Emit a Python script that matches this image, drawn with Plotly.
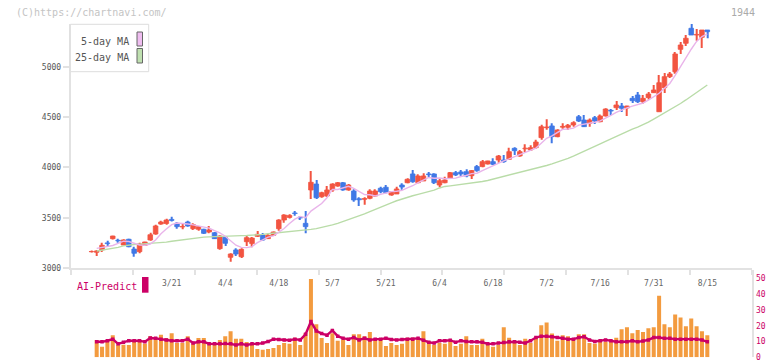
import plotly.graph_objects as go

# ---------------- data ----------------
tick_idx = [15, 25, 35, 45, 55, 65, 75, 85, 95, 105, 115]
tick_labels = ["3/21", "4/4", "4/18", "5/7", "5/21", "6/4", "6/18", "7/2", "7/16", "7/31", "8/15"]
price_ticks = [3000, 3500, 4000, 4500, 5000]
ai_ticks = [0, 10, 20, 30, 40, 50]

opens = [
    3165, 3159, 3182, 3252, 3294, 3278, 3231, 3288, 3191, 3165,
    3228, 3281, 3340, 3439, 3445, 3485, 3446, 3410, 3459, 3393,
    3387, 3387, 3360, 3353, 3195, 3307, 3109, 3182, 3115, 3264,
    3245, 3317, 3330, 3294, 3327, 3393, 3479, 3505, 3549, 3505,
    3446, 3777, 3836, 3710, 3717, 3777, 3816, 3849, 3777, 3767,
    3690, 3684, 3694, 3717, 3794, 3804, 3727, 3737, 3826, 3849,
    3936, 3849, 3866, 3936, 3936, 3826, 3849, 3896, 3949, 3956,
    3959, 3919, 4009, 4009, 4035, 4058, 4074, 4074, 4081, 4190,
    4114, 4185, 4174, 4197, 4296, 4395, 4412, 4306, 4400, 4399,
    4422, 4504, 4471, 4438, 4494, 4454, 4511, 4567, 4593, 4610,
    4590, 4686, 4719, 4653, 4693, 4742, 4553, 4792, 4901, 4950,
    5172, 5232, 5381, 5314, 5291, 5364,
]
highs = [
    3168, 3182, 3254, 3274, 3322, 3294, 3287, 3294, 3214, 3254,
    3264, 3353, 3433, 3472, 3492, 3512, 3459, 3446, 3472, 3446,
    3420, 3393, 3420, 3360, 3327, 3320, 3150, 3198, 3198, 3321,
    3310, 3370, 3350, 3340, 3366, 3486, 3535, 3535, 3568, 3519,
    3568, 3965, 3876, 3760, 3816, 3843, 3856, 3856, 3836, 3783,
    3704, 3704, 3783, 3783, 3810, 3826, 3765, 3810, 3843, 3893,
    3976, 3932, 3942, 3956, 3942, 3889, 3909, 3956, 3965, 3976,
    3982, 3976, 4025, 4074, 4068, 4091, 4124, 4124, 4197, 4200,
    4174, 4230, 4220, 4276, 4425, 4478, 4439, 4380, 4439, 4432,
    4458, 4521, 4521, 4485, 4511, 4525, 4587, 4580, 4660, 4640,
    4613, 4709, 4749, 4719, 4749, 4818, 4918, 4937, 4947, 5146,
    5245, 5315, 5424, 5374, 5364, 5364,
]
lows = [
    3162, 3122, 3162, 3221, 3285, 3254, 3228, 3208, 3115, 3149,
    3221, 3274, 3333, 3433, 3433, 3465, 3393, 3387, 3413, 3380,
    3373, 3340, 3347, 3290, 3185, 3221, 3065, 3122, 3102, 3221,
    3208, 3310, 3274, 3290, 3320, 3373, 3453, 3495, 3522, 3479,
    3347, 3687, 3687, 3700, 3710, 3760, 3810, 3770, 3770, 3661,
    3618, 3631, 3684, 3710, 3744, 3744, 3720, 3737, 3780, 3843,
    3849, 3843, 3866, 3906, 3836, 3803, 3843, 3893, 3916, 3916,
    3903, 3886, 3959, 4002, 4030, 4025, 4048, 4048, 4074, 4124,
    4107, 4154, 4167, 4187, 4276, 4375, 4240, 4300, 4379, 4372,
    4405, 4451, 4402, 4405, 4432, 4448, 4505, 4521, 4570, 4550,
    4511, 4640, 4640, 4633, 4673, 4739, 4553, 4739, 4888, 4931,
    5126, 5205, 5314, 5258, 5185, 5282,
]
closes = [
    3166, 3172, 3228, 3245, 3320, 3272, 3281, 3214, 3149, 3241,
    3261, 3333, 3420, 3459, 3479, 3475, 3413, 3415, 3420, 3433,
    3413, 3347, 3380, 3294, 3320, 3248, 3142, 3142, 3188, 3304,
    3300, 3337, 3281, 3327, 3360, 3479, 3529, 3525, 3543, 3499,
    3413, 3853, 3700, 3750, 3777, 3836, 3849, 3777, 3826, 3678,
    3680, 3692, 3767, 3767, 3760, 3750, 3760, 3787, 3806, 3883,
    3859, 3916, 3916, 3929, 3849, 3869, 3876, 3949, 3926, 3936,
    3916, 3969, 3969, 4058, 4065, 4032, 4114, 4058, 4157, 4167,
    4157, 4192, 4197, 4253, 4405, 4402, 4306, 4372, 4408, 4419,
    4445, 4461, 4405, 4471, 4461, 4511, 4580, 4560, 4620, 4587,
    4610, 4663, 4653, 4686, 4729, 4769, 4841, 4901, 4928, 5126,
    5215, 5282, 5314, 5320, 5364, 5347,
]
ma5 = [
    None, 3198, 3205, 3212, 3226, 3247, 3269, 3266, 3247, 3231,
    3229, 3240, 3281, 3343, 3390, 3433, 3449, 3448, 3440, 3431,
    3419, 3406, 3399, 3373, 3351, 3318, 3277, 3229, 3208, 3205,
    3215, 3254, 3282, 3310, 3321, 3357, 3395, 3444, 3487, 3515,
    3502, 3567, 3602, 3643, 3699, 3783, 3782, 3798, 3813, 3793,
    3762, 3731, 3729, 3717, 3733, 3747, 3761, 3765, 3773, 3797,
    3819, 3850, 3876, 3901, 3894, 3896, 3888, 3894, 3894, 3911,
    3921, 3939, 3943, 3970, 3995, 4019, 4048, 4065, 4085, 4106,
    4131, 4146, 4174, 4193, 4241, 4290, 4313, 4348, 4379, 4381,
    4390, 4421, 4428, 4440, 4449, 4462, 4486, 4517, 4546, 4572,
    4591, 4608, 4627, 4640, 4668, 4700, 4736, 4785, 4834, 4913,
    5002, 5090, 5173, 5251, 5299, 5325,
]
ma25 = [
    None, 3172, 3180, 3188, 3196, 3208, 3222, 3232, 3236, 3240,
    3243, 3246, 3248, 3252, 3260, 3268, 3276, 3281, 3288, 3296,
    3305, 3309, 3312, 3315, 3318, 3320, 3321, 3322, 3324, 3325,
    3327, 3331, 3337, 3343, 3348, 3352, 3356, 3360, 3366, 3372,
    3378, 3386, 3394, 3405, 3418, 3431, 3446, 3464, 3482, 3500,
    3518, 3540, 3563, 3586, 3610, 3630, 3650, 3670, 3688, 3706,
    3720, 3734, 3748, 3762, 3775, 3797, 3812, 3818, 3824, 3830,
    3836, 3844, 3852, 3861, 3871, 3884, 3898, 3912, 3927, 3941,
    3953, 3965, 3978, 3990, 4004, 4020, 4036, 4052, 4070, 4090,
    4112, 4135, 4160, 4185, 4210, 4235, 4260, 4285, 4310, 4335,
    4358, 4380, 4400, 4422, 4450, 4480, 4510, 4540, 4568, 4600,
    4635, 4670, 4705, 4745, 4782, 4818,
]
volume = [
    None, 10.9, 6.7, 10.5, 14.0, 7.8, 7.9, 7.8, 10.9, 10.9,
    8.5, 13.4, 12.7, 14.3, 12.2, 15.3, 9.0, 9.0, 13.4, 8.5,
    12.2, 12.2, 9.0, 7.8, 10.9, 13.4, 16.5, 11.7, 11.7, 9.7,
    7.8, 5.3, 4.7, 5.3, 5.9, 7.8, 9.0, 8.5, 12.4, 7.8,
    15.3, 49.6, 20.9, 12.2, 9.0, 15.3, 10.5, 10.9, 7.8, 14.6,
    14.6, 13.4, 16.0, 11.7, 10.9, 7.2, 9.0, 7.8, 8.5, 12.4,
    12.4, 10.9, 16.5, 9.7, 7.8, 9.0, 8.5, 9.7, 7.2, 8.5,
    13.4, 7.8, 7.8, 11.7, 8.5, 6.7, 7.8, 19.0, 12.4, 9.0,
    7.8, 11.7, 9.0, 12.4, 20.3, 22.1, 15.0, 10.5, 14.0, 13.4,
    11.7, 14.6, 14.6, 9.0, 8.5, 10.9, 9.7, 9.7, 12.4, 17.8,
    19.0, 15.3, 17.2, 16.0, 18.4, 19.0, 39.0, 20.9, 19.0, 27.1,
    25.2, 19.6, 24.6, 19.6, 16.5, 14.0,
]
ai_predict = [
    None, 9.8, 9.8, 10.5, 11.5, 8.5, 9.5, 10.5, 10.5, 10.5,
    9.8, 12.2, 12.0, 11.5, 11.0, 10.5, 10.5, 10.5, 11.5, 9.0,
    9.8, 9.8, 8.5, 8.5, 8.5, 8.8, 8.5, 7.8, 8.5, 7.8,
    8.5, 8.5, 9.0, 10.0, 11.5, 11.3, 11.0, 10.8, 11.5, 11.0,
    14.6, 22.6, 16.7, 15.0, 14.0, 17.0, 13.4, 12.0, 11.5, 12.5,
    11.0, 12.0, 11.0, 11.5, 11.5, 12.0, 11.3, 11.0, 11.3, 11.5,
    11.5, 12.0, 10.8, 9.5, 9.0, 10.5, 10.5, 10.8, 9.5, 10.5,
    10.0, 9.8, 9.8, 9.5, 8.5, 8.5, 9.0, 9.3, 9.8, 9.8,
    9.5, 9.0, 10.5, 12.5, 13.4, 13.4, 13.0, 12.5, 12.0, 11.5,
    11.5, 12.5, 13.0, 11.0, 10.0, 10.5, 11.0, 10.5, 9.8, 9.8,
    9.8, 10.5, 9.8, 10.3, 11.0, 12.5, 12.5, 12.0, 12.0, 11.5,
    11.5, 11.5, 11.5, 11.5, 11.0, 9.8,
]

# ---------------- styling ----------------
W, H = 772, 361
MONO = "DejaVu Sans Mono"
UP, DOWN = "#f25441", "#4078e6"
PINK, GREEN = "#e9b4ea", "#b9dca8"
ORANGE, CRIMSON = "#f39b3f", "#cc0066"
AXIS = "#e2e2e2"

n = len(closes)
idx = list(range(n))
colors = [UP if c >= o else DOWN for o, c in zip(opens, closes)]
body_base = [min(o, c) for o, c in zip(opens, closes)]
body_len = [abs(c - o) for o, c in zip(opens, closes)]
wick_len = [h - l for h, l in zip(highs, lows)]

XR = [-3.85, 123.4]
XDOM = [70.7 / W, 752.3 / W]


def px(y):
    return 1 - y / H


fig = go.Figure()
fig.add_trace(go.Scatter(x=idx, y=ma25, mode="lines", line=dict(color=GREEN, width=1.4), hoverinfo="skip"))
fig.add_trace(go.Scatter(x=idx, y=ma5, mode="lines", line=dict(color=PINK, width=1.4), hoverinfo="skip"))
fig.add_trace(go.Bar(x=idx, y=wick_len, base=lows, width=0.2, marker=dict(color=colors, line=dict(width=0))))
fig.add_trace(go.Bar(x=idx, y=body_len, base=body_base, width=0.86,
                     marker=dict(color=colors, line=dict(color=colors, width=0.8))))
fig.add_trace(go.Bar(x=idx, y=volume, width=0.75, marker=dict(color=ORANGE, line=dict(width=0)),
                     xaxis="x2", yaxis="y2"))
fig.add_trace(go.Scatter(x=idx, y=ai_predict, mode="lines+markers", xaxis="x2", yaxis="y2",
                         line=dict(color=CRIMSON, width=2.4),
                         marker=dict(symbol="square", size=3.5, color=CRIMSON)))
fig.add_trace(go.Scatter(x=[], y=[], xaxis="x3", yaxis="y", showlegend=False))

y_top_px, y_bot_px = 23.6, 268.3
zero_px, top2_px = 357.3, 270.0
fig.update_layout(
    width=W, height=H, margin=dict(l=0, r=0, t=0, b=0, autoexpand=False),
    paper_bgcolor="white", plot_bgcolor="white", showlegend=False,
    barmode="overlay",
    xaxis=dict(domain=XDOM, range=XR, anchor="y", showline=True, linecolor=AXIS, linewidth=2,
               ticks="outside", ticklen=5, tickcolor=AXIS, tickwidth=1.5, tickmode="linear",
               tick0=XR[0], dtick=(XR[1] - XR[0]) / 11, showticklabels=False,
               showgrid=False, zeroline=False, automargin=False),
    xaxis3=dict(overlaying="x", anchor="y", range=XR, tickmode="array", tickvals=tick_idx,
                ticktext=tick_labels, ticks="", showline=False, showgrid=False, zeroline=False,
                tickfont=dict(family=MONO, size=8, color="#666666"), ticklabelstandoff=9,
                automargin=False),
    yaxis=dict(domain=[px(y_bot_px), px(y_top_px)], range=[3000, 3000 + (y_bot_px - y_top_px) * 9.92],
               anchor="x", showline=True, linecolor=AXIS, linewidth=2, ticks="outside", ticklen=6,
               tickcolor=AXIS, tickwidth=1.5, tickmode="array", tickvals=price_ticks,
               tickfont=dict(family=MONO, size=8, color="#555555"), showgrid=False, zeroline=False,
               automargin=False),
    xaxis2=dict(domain=XDOM, range=XR, anchor="y2", visible=False, automargin=False),
    yaxis2=dict(domain=[px(zero_px), px(top2_px)], range=[0, (zero_px - top2_px) / 1.58], anchor="x2",
                side="right", showline=True, linecolor=AXIS, linewidth=2, ticks="", tickmode="array",
                tickvals=ai_ticks, tickfont=dict(family=MONO, size=8, color=CRIMSON),
                ticklabeloverflow="allow",
                showgrid=False, zeroline=False, automargin=False),
)

shapes = [
    dict(type="rect", xref="paper", yref="paper", x0=70.3 / W, x1=148.7 / W, y0=px(71.7), y1=px(24.3),
         line=dict(color="#dddddd", width=1), fillcolor="white", layer="above"),
    dict(type="rect", xref="paper", yref="paper", x0=137 / W, x1=142.5 / W, y0=px(46), y1=px(32),
         line=dict(color="#666666", width=1), fillcolor="#efbdf0", layer="above"),
    dict(type="rect", xref="paper", yref="paper", x0=137 / W, x1=142.5 / W, y0=px(63), y1=px(48.5),
         line=dict(color="#666666", width=1), fillcolor="#bfe0b0", layer="above"),
    dict(type="rect", xref="paper", yref="paper", x0=142 / W, x1=148.5 / W, y0=px(292.7), y1=px(277),
         line=dict(width=0), fillcolor=CRIMSON, layer="above"),
]
annotations = [
    dict(text="(C)https://chartnavi.com/", x=14 / W, y=px(12), xref="paper", yref="paper",
         xanchor="left", yanchor="middle", showarrow=False,
         font=dict(family=MONO, size=10, color="#c4c4c4")),
    dict(text="1944", x=757 / W, y=px(12), xref="paper", yref="paper",
         xanchor="right", yanchor="middle", showarrow=False,
         font=dict(family=MONO, size=10, color="#aaaaaa")),
    dict(text="5-day MA", x=131 / W, y=px(41), xref="paper", yref="paper",
         xanchor="right", yanchor="middle", showarrow=False,
         font=dict(family=MONO, size=10, color="#555555")),
    dict(text="25-day MA", x=131 / W, y=px(57), xref="paper", yref="paper",
         xanchor="right", yanchor="middle", showarrow=False,
         font=dict(family=MONO, size=10, color="#555555")),
    dict(text="AI-Predict", x=75 / W, y=px(286), xref="paper", yref="paper",
         xanchor="left", yanchor="middle", showarrow=False,
         font=dict(family=MONO, size=10, color=CRIMSON)),
]
fig.update_layout(shapes=shapes, annotations=annotations)

fig.write_html("out.html", config={"displayModeBar": False},
               post_script="document.body.style.margin='0';document.body.style.padding='0';")
